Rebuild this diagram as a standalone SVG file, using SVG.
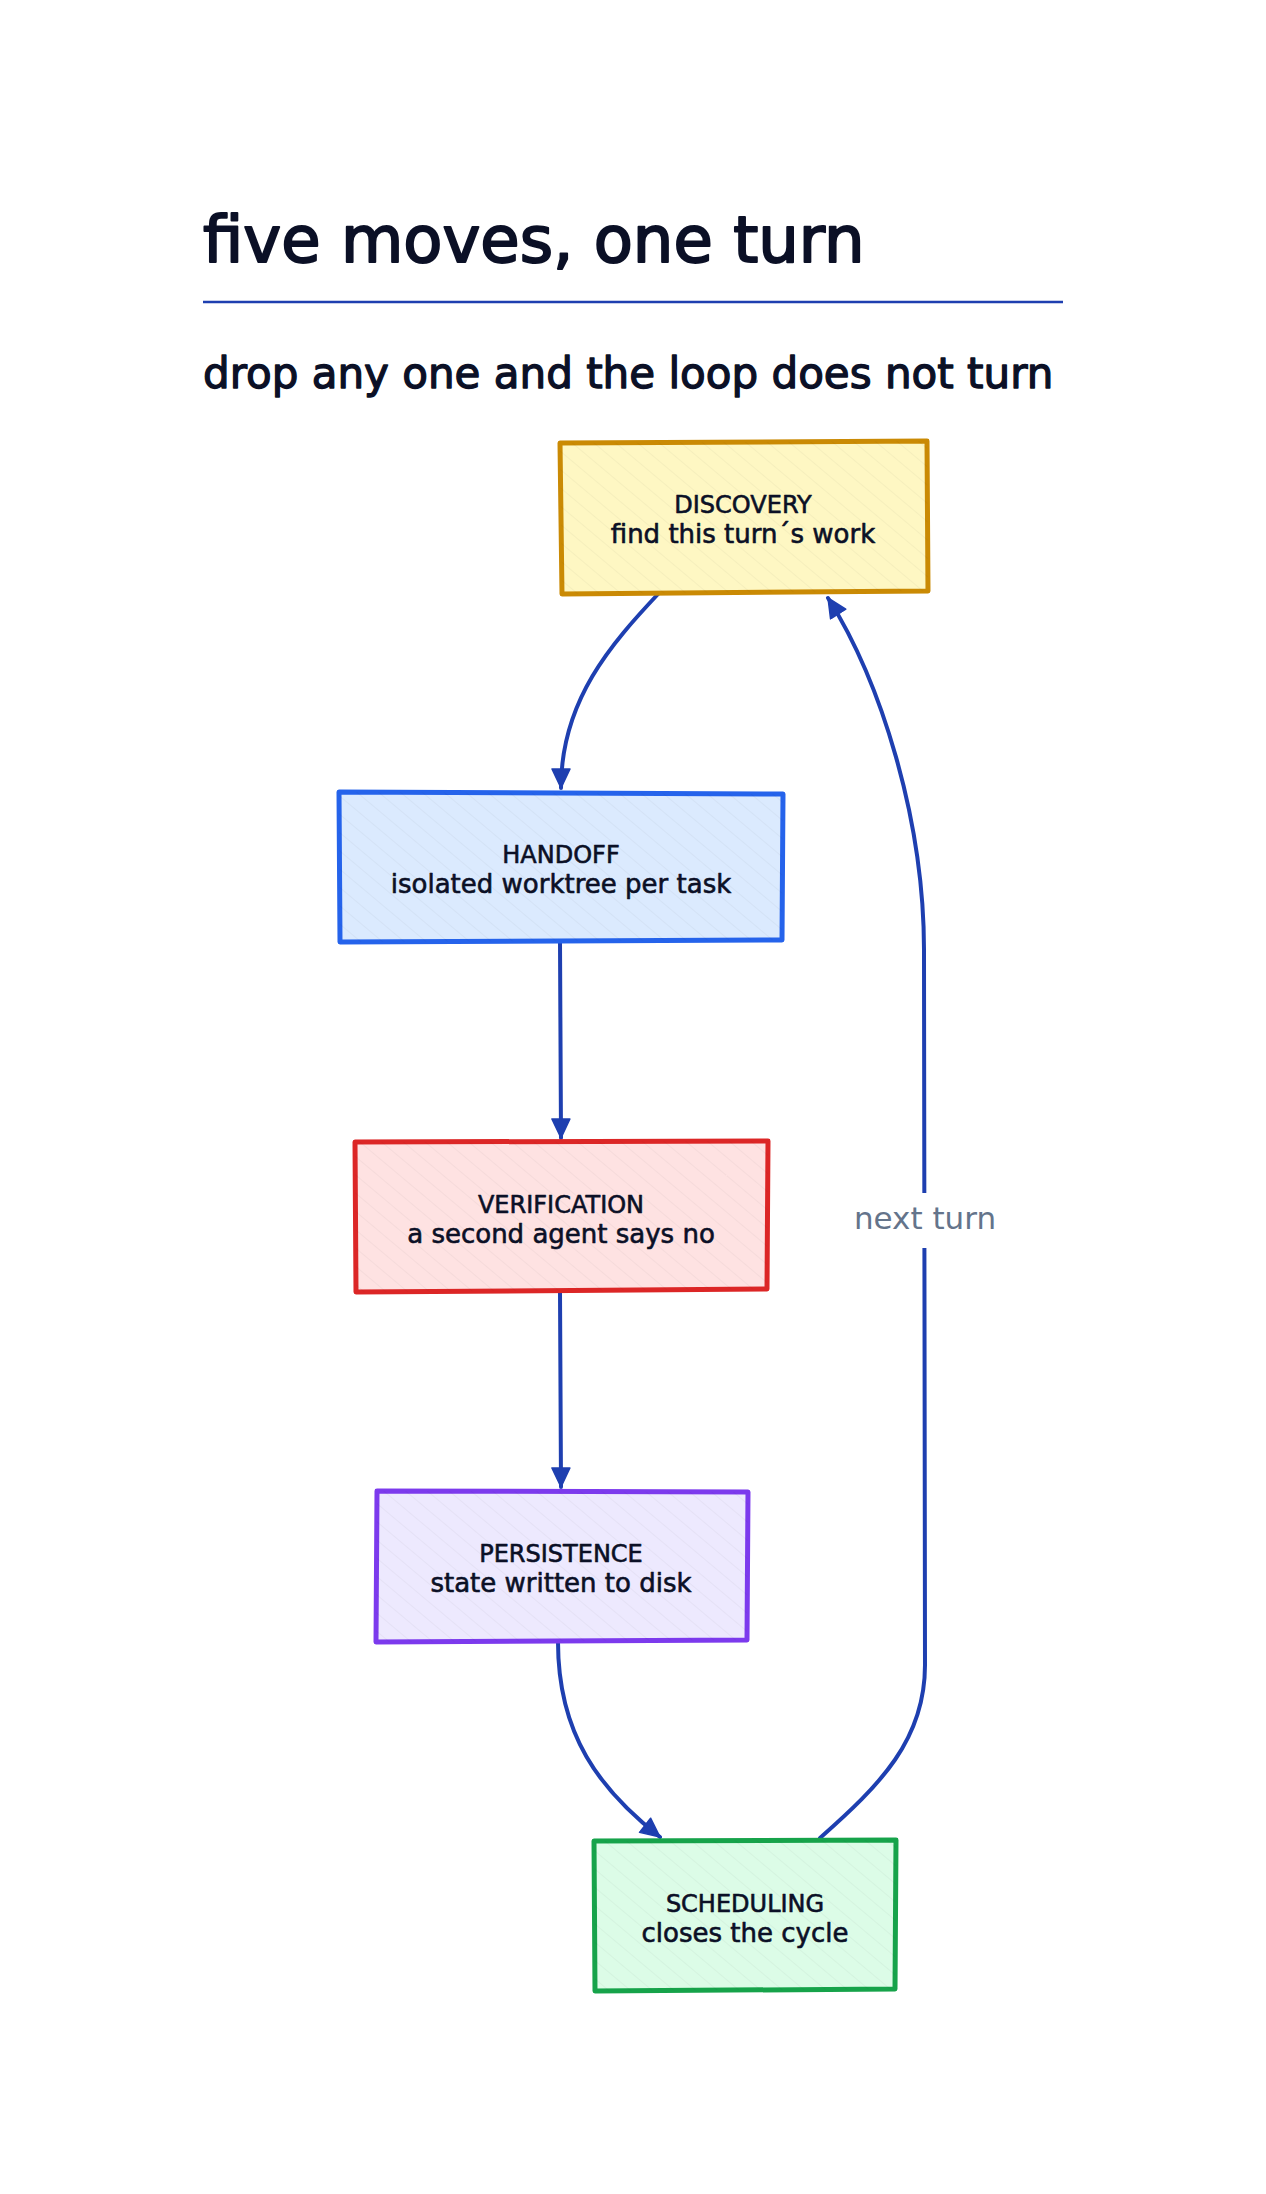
<svg xmlns="http://www.w3.org/2000/svg" width="1266" height="2194" viewBox="0 0 1266 2194">
<style>
.t{font-family:"DejaVu Sans","Liberation Sans",sans-serif;fill:#0b1026;stroke:#0b1026;stroke-linejoin:round}
.title{font-size:64px;stroke-width:2}
.sub{font-size:42px;stroke-width:1.3}
.hd{font-size:24px;text-anchor:middle;stroke-width:0.6}
.ln{font-size:26px;text-anchor:middle;stroke-width:0.6}
.lbl{font-family:"DejaVu Sans","Liberation Sans",sans-serif;font-size:31px;fill:#64748b;text-anchor:middle}
.box{stroke-width:5;stroke-linejoin:round;stroke-linecap:round}
.edge{fill:none;stroke:#1e3fb0;stroke-width:4;stroke-linecap:round}
</style>
<defs>
<marker id="ah" viewBox="0 0 22 22" refX="20" refY="11" markerWidth="22" markerHeight="22" markerUnits="userSpaceOnUse" orient="auto">
<path d="M1,2 L20,11 L1,20 Z" fill="#1e3fb0" stroke="#1e3fb0" stroke-width="1.5" stroke-linejoin="round"/>
</marker>
<pattern id="hatch" width="14" height="14" patternUnits="userSpaceOnUse" patternTransform="rotate(-50)">
<line x1="0" y1="0" x2="0" y2="14" stroke="#000" stroke-opacity="0.06" stroke-width="1.2"/>
</pattern>
</defs>
<rect width="1266" height="2194" fill="#ffffff"/>
<g id="title">
<text class="t title" x="203" y="262">five moves, one turn</text>
<line x1="203" y1="302" x2="1063" y2="302" stroke="#1e3fb0" stroke-width="2.5"/>
<text class="t sub" x="203" y="388">drop any one and the loop does not turn</text>
</g>
<g id="connectors">
<path class="edge" d="M659,593 C612,643 561,700 561,788" marker-end="url(#ah)"/>
<path class="edge" d="M560,942 L561,1138" marker-end="url(#ah)"/>
<path class="edge" d="M560,1292 L561,1487" marker-end="url(#ah)"/>
<path class="edge" d="M558,1642 C558,1735 600,1790 660,1837" marker-end="url(#ah)"/>
<path class="edge" d="M820,1838 C880,1785 925,1740 925,1665 L924,955 C925,820 880,680 828,598" marker-end="url(#ah)"/>
<rect x="840" y="1193" width="170" height="55" fill="#ffffff"/>
<text class="lbl" x="925" y="1229">next turn</text>
</g>
<g id="discovery">
<path class="box" d="M560,443 L927,441 L928,591 L562,594 Z" fill="#fef7c3" stroke="#ca8a04"/>
<path d="M560,443 L927,441 L928,591 L562,594 Z" fill="url(#hatch)"/>
<text class="t hd" x="743" y="513">DISCOVERY</text>
<text class="t ln" x="743" y="543">find this turn´s work</text>
</g>
<g id="handoff">
<path class="box" d="M339,792 L783,794 L782,940 L340,942 Z" fill="#dbeafe" stroke="#2563eb"/>
<path d="M339,792 L783,794 L782,940 L340,942 Z" fill="url(#hatch)"/>
<text class="t hd" x="561" y="863">HANDOFF</text>
<text class="t ln" x="561" y="893">isolated worktree per task</text>
</g>
<g id="verification">
<path class="box" d="M355,1142 L768,1141 L767,1289 L356,1292 Z" fill="#fee2e2" stroke="#dc2626"/>
<path d="M355,1142 L768,1141 L767,1289 L356,1292 Z" fill="url(#hatch)"/>
<text class="t hd" x="561" y="1213">VERIFICATION</text>
<text class="t ln" x="561" y="1243">a second agent says no</text>
</g>
<g id="persistence">
<path class="box" d="M377,1491 L748,1492 L747,1640 L376,1642 Z" fill="#ede9fe" stroke="#7c3aed"/>
<path d="M377,1491 L748,1492 L747,1640 L376,1642 Z" fill="url(#hatch)"/>
<text class="t hd" x="561" y="1562">PERSISTENCE</text>
<text class="t ln" x="561" y="1592">state written to disk</text>
</g>
<g id="scheduling">
<path class="box" d="M594,1841 L896,1840 L895,1989 L595,1991 Z" fill="#dcfce7" stroke="#16a34a"/>
<path d="M594,1841 L896,1840 L895,1989 L595,1991 Z" fill="url(#hatch)"/>
<text class="t hd" x="745" y="1912">SCHEDULING</text>
<text class="t ln" x="745" y="1942">closes the cycle</text>
</g>
</svg>
